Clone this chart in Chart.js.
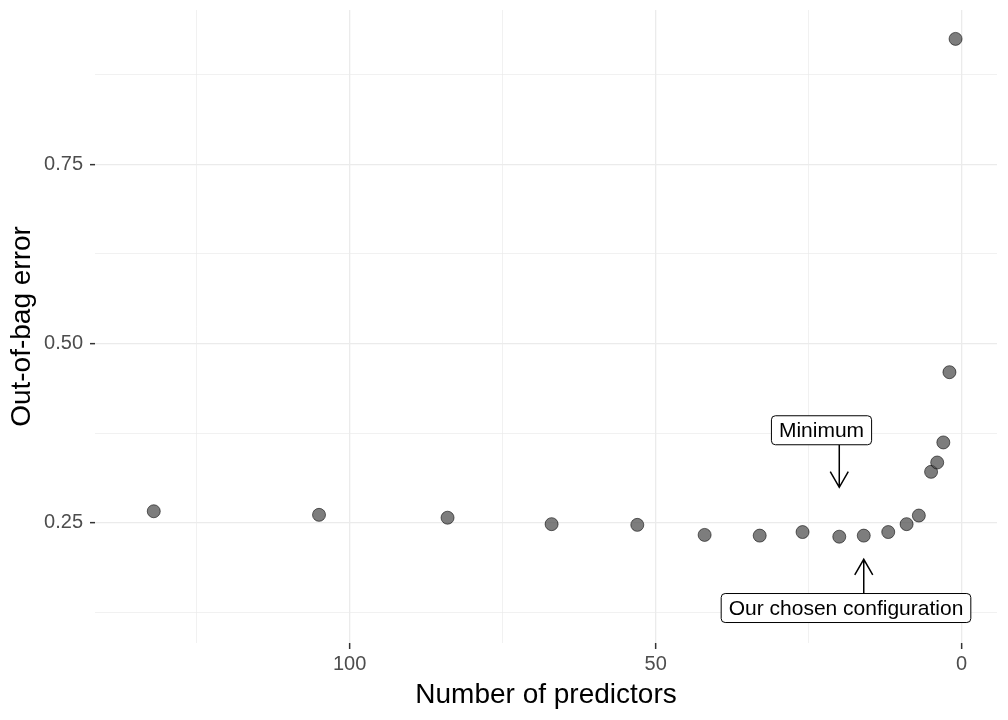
<!DOCTYPE html>
<html>
<head>
<meta charset="utf-8">
<script src="https://cdn.jsdelivr.net/npm/chart.js@4.4.0/dist/chart.umd.min.js"></script>
<style>
  html, body { margin: 0; padding: 0; background: #fff; }
  #wrap { width: 1008px; height: 720px; }
</style>
</head>
<body>
<div id="wrap"><canvas id="myChart" width="1008" height="720"></canvas></div>
<script>
// data
const predictors = [132, 105, 84, 67, 53, 42, 33, 26, 20, 16, 12, 9, 7, 5, 4, 3, 2, 1];
const oobError = [0.266, 0.261, 0.257, 0.248, 0.247, 0.233, 0.232, 0.237, 0.2305, 0.232, 0.237, 0.248, 0.260, 0.321, 0.334, 0.362, 0.460, 0.925];
const xTicks = [0, 50, 100];
const xMinor = [25, 75, 125];
const yTicks = [0.25, 0.5, 0.75];
const yMinor = [0.125, 0.375, 0.625, 0.875];

// annotation labels + arrows (data coords)
const notes = [
  { text: 'Minimum', x: 22.9, y: 0.379, from: [20, 0.3584], to: [20, 0.2994] },
  { text: 'Our chosen configuration', x: 18.9, y: 0.131, from: [16, 0.1515], to: [16, 0.1989] }
];

const FONT = '"Liberation Sans", Arial, sans-serif';
const isMajor = (list, ctx) => ctx.tick && list.includes(ctx.tick.value);

const notePlugin = {
  id: 'notes',
  afterDatasetsDraw(chart) {
    const { ctx, scales: { x, y } } = chart;
    ctx.save();
    notes.forEach(n => {
      const x1 = x.getPixelForValue(n.from[0]), y1 = y.getPixelForValue(n.from[1]);
      const x2 = x.getPixelForValue(n.to[0]), y2 = y.getPixelForValue(n.to[1]);
      ctx.strokeStyle = '#000';
      ctx.lineWidth = 1.5;
      ctx.beginPath();
      ctx.moveTo(x1, y1);
      ctx.lineTo(x2, y2);
      // open arrow head
      const ang = Math.atan2(y2 - y1, x2 - x1);
      const len = 18, spread = Math.PI / 6;
      ctx.moveTo(x2 - len * Math.cos(ang - spread), y2 - len * Math.sin(ang - spread));
      ctx.lineTo(x2, y2);
      ctx.lineTo(x2 - len * Math.cos(ang + spread), y2 - len * Math.sin(ang + spread));
      ctx.stroke();

      ctx.font = '21px ' + FONT;
      const w = ctx.measureText(n.text).width + 15, h = 29;
      const cx = x.getPixelForValue(n.x), cy = y.getPixelForValue(n.y);
      ctx.beginPath();
      ctx.roundRect(cx - w / 2, cy - h / 2, w, h, 4);
      ctx.fillStyle = '#fff';
      ctx.fill();
      ctx.lineWidth = 1;
      ctx.stroke();
      ctx.fillStyle = '#000';
      ctx.textAlign = 'center';
      ctx.textBaseline = 'middle';
      ctx.fillText(n.text, cx, cy + 1);
    });
    ctx.restore();
  }
};

new Chart(document.getElementById('myChart'), {
  type: 'scatter',
  data: {
    datasets: [{
      data: predictors.map((p, i) => ({ x: p, y: oobError[i] })),
      backgroundColor: 'rgba(77,77,77,0.73)',
      borderColor: 'rgba(0,0,0,0.7)',
      borderWidth: 0.8,
      pointRadius: 6.5,
      pointHoverRadius: 6.5
    }]
  },
  options: {
    responsive: false,
    animation: false,
    devicePixelRatio: 1,
    layout: { padding: { top: 10, right: 11, left: 0, bottom: 0 } },
    plugins: { legend: { display: false }, tooltip: { enabled: false } },
    scales: {
      x: {
        type: 'linear',
        reverse: true,
        min: -5.77,
        max: 141.6,
        afterBuildTicks: s => { s.ticks = [...xTicks, ...xMinor].sort((a, b) => a - b).map(v => ({ value: v })); },
        afterFit: s => { s.height = 77; s.paddingLeft = 0; s.paddingRight = 0; },
        border: { display: false },
        grid: {
          color: '#ebebeb',
          lineWidth: ctx => isMajor(xTicks, ctx) ? 1.3 : 0.7,
          tickColor: ctx => isMajor(xTicks, ctx) ? '#333' : 'rgba(0,0,0,0)',
          tickLength: 6,
          tickWidth: 1.5
        },
        ticks: {
          callback: v => xTicks.includes(v) ? String(v) : '',
          font: { size: 20, family: FONT },
          color: '#4d4d4d',
          padding: 3,
          maxRotation: 0,
          autoSkip: false
        },
        title: {
          display: true,
          text: 'Number of predictors',
          font: { size: 28, family: FONT },
          color: '#000',
          padding: { top: 0, bottom: 8 }
        }
      },
      y: {
        type: 'linear',
        min: 0.0822,
        max: 0.9653,
        afterBuildTicks: s => { s.ticks = [...yTicks, ...yMinor].sort((a, b) => a - b).map(v => ({ value: v })); },
        afterFit: s => { s.width = 95; s.paddingTop = 0; s.paddingBottom = 0; },
        border: { display: false },
        grid: {
          color: '#ebebeb',
          lineWidth: ctx => isMajor(yTicks, ctx) ? 1.3 : 0.7,
          tickColor: ctx => isMajor(yTicks, ctx) ? '#333' : 'rgba(0,0,0,0)',
          tickLength: 5,
          tickWidth: 1.5
        },
        ticks: {
          callback: v => yTicks.includes(v) ? v.toFixed(2) : '',
          font: { size: 20, family: FONT },
          color: '#4d4d4d',
          padding: 7,
          autoSkip: false
        },
        title: {
          display: true,
          text: 'Out-of-bag error',
          font: { size: 28, family: FONT },
          color: '#000',
          padding: { top: 5, bottom: 0 }
        }
      }
    }
  },
  plugins: [notePlugin]
});
</script>
</body>
</html>
